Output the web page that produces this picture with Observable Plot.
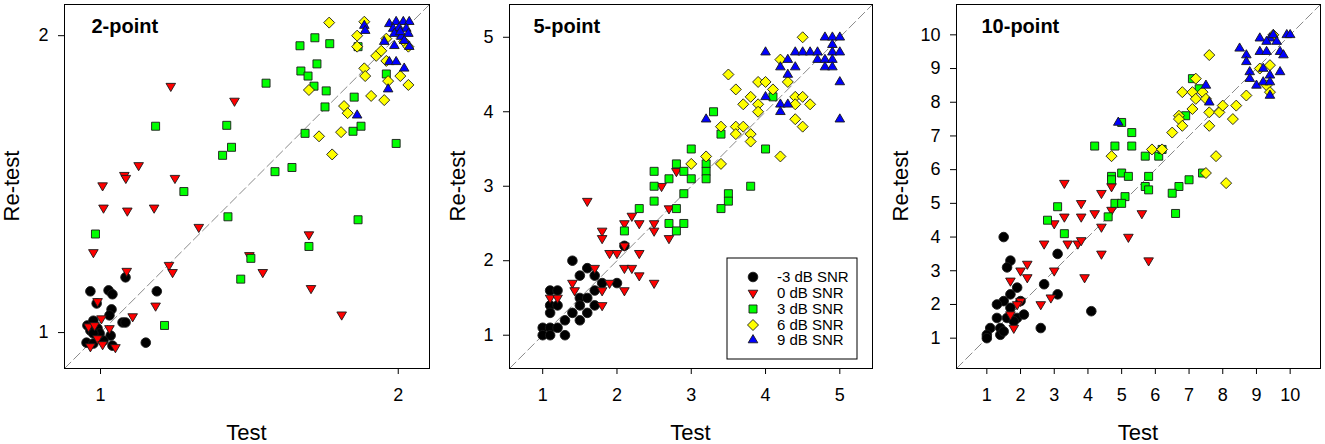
<!DOCTYPE html>
<html>
<head>
<meta charset="utf-8">
<script src="https://cdn.jsdelivr.net/npm/d3@7"></script>
<script src="https://cdn.jsdelivr.net/npm/@observablehq/plot@0.6"></script>
<style>
  body { margin: 0; background: #fff; }
  #wrap { position: relative; width: 1325px; height: 444px; overflow: hidden; }
  #wrap svg { position: absolute; top: 0; }
</style>
</head>
<body>
<div id="wrap"></div>
<script>
// ---------- data ----------
const snrLabels = ["-3 dB SNR", "0 dB SNR", "3 dB SNR", "6 dB SNR", "9 dB SNR"];
const panelTitles = ["2-point", "5-point", "10-point"];
const ticks2 = [1, 2];
const ticks5 = [1, 2, 3, 4, 5];
const ticks10 = [1, 2, 3, 4, 5, 6, 7, 8, 9, 10];

// 2-point scale: [test, retest]
const p2_snrM3 = [[1.084,1.186],[0.966,1.139],[1.027,1.142],[1.04,1.129],[1.189,1.139],[0.987,1.098],[1.037,1.078],[1.03,1.058],[1.074,1.034],[1.084,1.034],[1.152,0.966],[0.956,1.024],[0.976,1.04],[0.966,1.007],[0.99,1.014],[1.034,0.99],[0.953,0.966],[0.976,0.963],[1.01,0.973],[1.04,0.956],[0.997,0.997],[0.976,0.997]];
const p2_snr0 = [[1.236,1.83],[1.45,1.78],[1.128,1.563],[1.08,1.53],[1.085,1.52],[1.007,1.495],[1.25,1.52],[1.01,1.42],[1.09,1.41],[1.18,1.42],[1.33,1.355],[1.70,1.33],[0.976,1.27],[1.50,1.26],[1.088,1.207],[1.23,1.227],[1.242,1.203],[1.545,1.203],[1.707,1.149],[1.185,1.09],[0.99,1.105],[1.108,1.054],[1.81,1.06],[1.003,1.047],[0.96,1.02],[0.98,1.024],[1.03,1.014],[0.99,0.98],[0.966,0.953],[1.007,0.96],[1.05,0.95]];
const p2_snr3 = [[1.72,1.993],[1.67,1.966],[1.77,1.973],[1.865,1.963],[1.727,1.905],[1.673,1.881],[1.697,1.864],[1.556,1.84],[1.717,1.83],[1.758,1.814],[1.852,1.793],[1.96,1.871],[1.754,1.76],[1.875,1.695],[1.848,1.678],[1.687,1.671],[1.993,1.637],[1.185,1.695],[1.424,1.698],[1.44,1.624],[1.41,1.597],[1.586,1.542],[1.643,1.556],[1.28,1.475],[1.428,1.39],[1.865,1.38],[0.983,1.332],[1.70,1.29],[1.505,1.25],[1.471,1.18],[1.215,1.024]];
const p2_snr6 = [[1.768,2.044],[1.886,2.047],[1.862,2.0],[1.862,1.963],[1.926,1.932],[1.96,1.99],[1.943,1.949],[2.02,1.98],[2.034,1.963],[1.96,1.915],[1.886,1.89],[1.889,1.864],[1.966,1.847],[2.007,1.864],[2.034,1.834],[1.70,1.817],[1.909,1.797],[1.953,1.783],[1.818,1.763],[1.83,1.739],[1.808,1.675],[1.734,1.661],[1.778,1.6]];
const p2_snr9 = [[1.886,2.034],[1.889,2.017],[1.97,2.04],[1.993,2.047],[2.017,2.047],[2.037,2.047],[1.983,2.024],[2.003,2.027],[2.027,2.024],[1.987,2.007],[2.034,2.007],[2.01,1.997],[1.953,1.98],[1.987,1.966],[2.02,1.983],[2.037,1.963],[1.97,1.912],[1.993,1.912],[2.02,1.89],[1.966,1.82],[1.862,1.732],[2.007,2.013]];

// 5-point scale
const p5_snrM3 = [[1.4,2.0],[1.6,1.9],[2.1,2.2],[1.5,1.8],[1.7,1.8],[1.8,1.7],[2.0,1.7],[1.1,1.6],[1.2,1.6],[1.7,1.6],[1.5,1.5],[1.6,1.5],[1.1,1.4],[1.2,1.4],[1.7,1.4],[1.5,1.4],[1.1,1.3],[1.4,1.3],[1.6,1.3],[1.3,1.2],[1.5,1.2],[1.0,1.1],[1.1,1.1],[1.2,1.1],[1.0,1.0],[1.1,1.0],[1.3,1.0]];
const p5_snr0 = [[1.6,2.8],[2.8,3.2],[2.6,3.0],[2.7,2.7],[2.2,2.6],[2.1,2.5],[2.3,2.5],[2.5,2.5],[1.8,2.4],[2.5,2.4],[1.8,2.3],[2.7,2.3],[1.9,2.1],[2.0,2.1],[2.3,2.1],[2.1,2.2],[1.7,1.9],[2.1,1.9],[2.2,1.9],[2.3,1.8],[1.4,1.7],[1.9,1.7],[2.5,1.7],[1.43,1.6],[1.8,1.6],[2.1,1.6],[1.1,1.5],[1.2,1.5],[1.8,1.4]];
const p5_snr3 = [[3.3,4.0],[4.1,4.2],[3.4,3.7],[3.0,3.5],[4.0,3.5],[3.2,3.3],[3.2,3.2],[3.2,3.1],[2.8,3.3],[2.5,3.2],[2.9,3.2],[2.7,3.1],[3.0,3.1],[2.5,3.0],[3.8,3.0],[2.9,2.9],[2.5,2.8],[3.5,2.9],[3.5,2.8],[2.3,2.7],[2.8,2.7],[3.4,2.7],[2.7,2.5],[2.9,2.5],[2.1,2.4],[2.8,2.4]];
const p5_snr6 = [[4.5,5.0],[4.2,4.7],[3.5,4.5],[3.9,4.4],[4.0,4.4],[4.3,4.4],[3.6,4.3],[4.1,4.3],[3.8,4.2],[4.4,4.2],[4.5,4.2],[3.7,4.1],[3.9,4.1],[4.4,4.1],[4.6,4.1],[3.9,4.0],[3.4,3.8],[3.6,3.8],[3.7,3.8],[4.4,3.9],[4.5,3.8],[3.6,3.7],[3.8,3.7],[3.8,3.6],[4.2,3.4],[3.2,3.4],[3.0,3.3],[3.4,3.3]];
const p5_snr9 = [[4.8,5.0],[4.9,5.0],[5.0,5.0],[4.9,4.9],[4.0,4.8],[4.4,4.8],[4.5,4.8],[4.6,4.8],[4.7,4.8],[4.9,4.8],[5.0,4.8],[4.3,4.7],[4.7,4.7],[4.8,4.7],[4.9,4.7],[4.2,4.6],[4.4,4.6],[4.8,4.6],[4.9,4.6],[4.3,4.5],[5.0,4.4],[4.0,4.2],[4.2,4.1],[4.3,4.1],[4.2,4.0],[3.2,3.9],[5.0,3.9]];

// 10-point scale
const p10_snrM3 = [[1.5,4.0],[1.7,3.3],[1.6,3.1],[3.1,3.5],[2.7,2.6],[3.1,2.3],[1.9,2.5],[1.7,2.3],[1.5,2.1],[1.3,2.0],[2.0,2.1],[1.7,1.9],[4.1,1.8],[1.3,1.6],[1.6,1.6],[1.9,1.6],[2.1,1.7],[1.8,1.5],[1.1,1.3],[1.4,1.3],[2.6,1.3],[1.0,1.1],[1.4,1.1],[1.5,1.2],[1.0,1.0]];
const p10_snr0 = [[3.3,5.6],[4.4,5.3],[4.7,5.5],[3.8,5.0],[4.2,4.7],[3.8,4.6],[3.3,4.6],[5.6,4.7],[4.7,4.8],[3.0,4.4],[4.4,4.3],[5.2,4.0],[2.7,3.8],[3.4,3.8],[3.7,3.8],[3.8,3.9],[4.4,3.5],[5.8,3.3],[2.2,3.2],[2.0,3.0],[3.0,3.0],[2.2,2.8],[3.9,2.8],[1.7,2.7],[2.9,2.2],[2.0,2.1],[2.6,2.0],[1.9,2.0],[1.7,1.7],[1.8,1.3]];
const p10_snr3 = [[7.1,8.7],[7.3,8.4],[6.9,7.6],[5.0,7.4],[5.3,7.1],[4.2,6.7],[4.8,6.7],[5.3,6.7],[5.7,6.4],[6.1,6.4],[6.2,6.6],[4.7,5.8],[4.7,5.7],[5.0,5.9],[5.2,5.8],[5.8,5.8],[5.7,5.5],[5.8,5.4],[7.0,5.7],[7.4,5.9],[6.7,5.5],[6.5,5.3],[5.1,5.2],[4.8,5.0],[5.0,5.0],[3.1,4.9],[6.6,4.7],[2.8,4.5],[4.6,4.6],[3.3,4.1]];
const p10_snr6 = [[9.5,10.0],[7.6,9.4],[9.4,9.1],[9.1,9.0],[7.2,8.7],[9.3,8.5],[9.4,8.3],[6.8,8.3],[7.1,8.3],[7.4,8.3],[7.2,8.1],[7.5,8.1],[8.7,8.2],[7.1,7.8],[7.6,7.7],[7.9,7.7],[8.0,7.9],[8.4,7.9],[8.3,7.5],[6.7,7.6],[6.7,7.5],[6.8,7.3],[7.6,7.3],[6.5,7.1],[5.9,6.6],[6.2,6.6],[4.7,6.4],[7.8,6.4],[7.5,5.9],[8.1,5.6]];
const p10_snr9 = [[9.1,9.9],[9.4,9.9],[9.5,10.0],[9.9,10.0],[10.0,10.0],[9.3,9.8],[9.6,9.8],[8.5,9.6],[8.7,9.4],[9.1,9.5],[9.3,9.5],[9.7,9.5],[9.8,9.4],[8.7,9.2],[8.8,8.9],[9.2,9.0],[9.7,8.9],[9.4,8.8],[8.8,8.7],[9.0,8.5],[9.2,8.6],[9.4,8.6],[7.5,8.5],[9.4,8.2],[7.6,8.0],[4.9,7.4]];

// ---------- symbols ----------
const rad = size => Math.sqrt(size / Math.PI);
const symCircle = {draw(c, s){ const r = rad(s); c.moveTo(r, 0); c.arc(0, 0, r, 0, 2 * Math.PI); c.closePath(); }};
const symTriDown = {draw(c, s){ const r = rad(s); c.moveTo(-r, -0.58 * r); c.lineTo(r, -0.58 * r); c.lineTo(0, 1.12 * r); c.closePath(); }};
const symTriUp = {draw(c, s){ const r = rad(s); c.moveTo(-r, 0.58 * r); c.lineTo(r, 0.58 * r); c.lineTo(0, -1.12 * r); c.closePath(); }};
const symSquare = {draw(c, s){ const r = rad(s); c.moveTo(-r, -r); c.lineTo(r, -r); c.lineTo(r, r); c.lineTo(-r, r); c.closePath(); }};
const symDiamond = {draw(c, s){ const r = rad(s); c.moveTo(0, -r); c.lineTo(r, 0); c.lineTo(0, r); c.lineTo(-r, 0); c.closePath(); }};

const groups = [
  {symbol: symCircle,  r: 4.8, fill: "#000000"},
  {symbol: symTriDown, r: 4.8, fill: "#ff0000"},
  {symbol: symSquare,  r: 4.0, fill: "#00ff00"},
  {symbol: symDiamond, r: 5.5, fill: "#ffff00"},
  {symbol: symTriUp,   r: 4.8, fill: "#0000ff"}
];

const FONT = "'Liberation Sans', Arial, Helvetica, sans-serif";

const panels = [
  {title: panelTitles[0], series: [p2_snrM3, p2_snr0, p2_snr3, p2_snr6, p2_snr9], domain: [0.879, 2.105], ticks: ticks2,
   left: 0, width: 440, mr: 11, titleDx: 27, yLab: 45, legend: false},
  {title: panelTitles[1], series: [p5_snrM3, p5_snr0, p5_snr3, p5_snr6, p5_snr9], domain: [0.553, 5.44], ticks: ticks5,
   left: 445, width: 440, mr: 13, titleDx: 24, yLab: 44, legend: true},
  {title: panelTitles[2], series: [p10_snrM3, p10_snr0, p10_snr3, p10_snr6, p10_snr9], domain: [0.1, 10.9], ticks: ticks10,
   left: 892, width: 433, mr: 5, titleDx: 25, yLab: 48, legend: false}
];

const ML = 64, MT = 4, MB = 76, H = 444;
const wrap = document.getElementById("wrap");

for (const cfg of panels) {
  const dom = cfg.domain;
  const diag = dom.map(v => [v, v]);
  const marks = [
    Plot.line(diag, {x: d => d[0], y: d => d[1], stroke: "#8a8a8a", strokeWidth: 1, strokeDasharray: "9,4"}),
    ...groups.map((g, i) => Plot.dot(cfg.series[i], {
      x: d => d[0], y: d => d[1], symbol: g.symbol, r: g.r, fill: g.fill,
      stroke: "#1a1a1a", strokeWidth: 0.9
    })),
    Plot.text([cfg.title], {frameAnchor: "top-left", textAnchor: "start", lineAnchor: "top",
      dx: cfg.titleDx, dy: 14, fontWeight: "bold", fontSize: 20, fill: "#000"}),
    Plot.frame({stroke: "#000", strokeWidth: 1})
  ];
  const svg = Plot.plot({
    width: cfg.width, height: H,
    marginLeft: ML, marginRight: cfg.mr, marginTop: MT, marginBottom: MB,
    x: {domain: dom, ticks: cfg.ticks, tickSize: 6, tickPadding: 14, label: null, tickFormat: d => String(d)},
    y: {domain: dom, ticks: cfg.ticks, tickSize: 6, tickPadding: 10, label: null, tickFormat: d => String(d)},
    style: {fontSize: "18px", fontFamily: FONT, background: "transparent", color: "#000", overflow: "visible"},
    marks
  });
  svg.style.left = cfg.left + "px";
  const s = d3.select(svg);
  const frameW = cfg.width - ML - cfg.mr;
  const frameMidY = MT + (H - MT - MB) / 2;
  s.append("text").attr("x", ML + frameW / 2).attr("y", 440)
    .attr("text-anchor", "middle").attr("font-size", 22).attr("font-family", FONT).attr("fill", "#000").text("Test");
  s.append("text").attr("transform", `translate(${ML - cfg.yLab},${frameMidY}) rotate(-90)`)
    .attr("text-anchor", "middle").attr("font-size", 22).attr("font-family", FONT).attr("fill", "#000").text("Re-test");

  if (cfg.legend) {
    const bx = 282, by = 258, bw = 130, bh = 101;
    const lg = s.append("g");
    lg.append("rect").attr("x", bx).attr("y", by).attr("width", bw).attr("height", bh)
      .attr("fill", "#fff").attr("stroke", "#000").attr("stroke-width", 1);
    const rowY = [277, 293, 309, 325, 340];
    groups.forEach((g, i) => {
      const sym = d3.symbol().type(g.symbol).size(g.r * g.r * Math.PI);
      lg.append("path").attr("d", sym()).attr("transform", `translate(308,${rowY[i]})`)
        .attr("fill", g.fill).attr("stroke", "#1a1a1a").attr("stroke-width", 0.9);
      lg.append("text").attr("x", 332).attr("y", rowY[i]).attr("dy", "0.35em")
        .attr("text-anchor", "start")
        .attr("font-size", 15).attr("font-family", FONT).attr("fill", "#000").text(snrLabels[i]);
    });
  }
  wrap.appendChild(svg);
}
</script>
</body>
</html>
